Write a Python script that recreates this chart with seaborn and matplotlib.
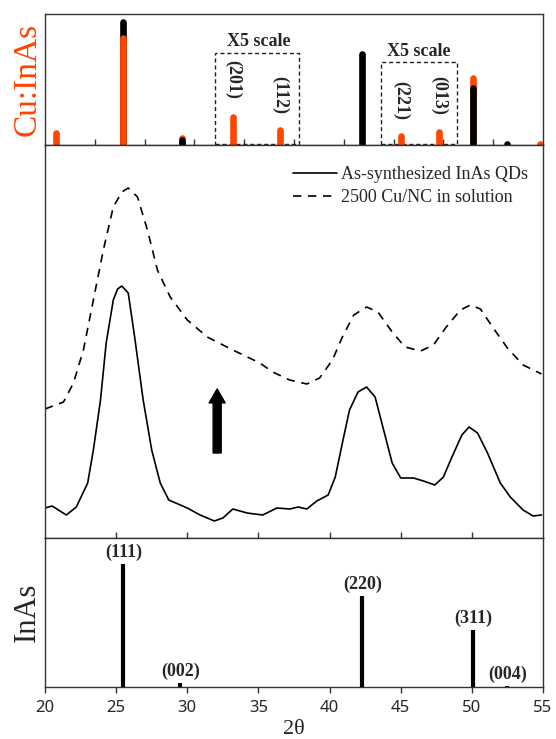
import numpy as np
import pandas as pd
import matplotlib.pyplot as plt
import seaborn as sns
from matplotlib.patches import Rectangle

# ---- top panel: Cu:InAs reference peaks (panel units 0-393) ----
cu_orange_pos = [20.8, 25.5, 29.6, 33.2, 36.5, 45.0, 47.7, 50.1, 54.8]
cu_orange_h = [35, 322, 22, 85, 44, 27, 39, 201, 4]
cu_black_pos = [25.5, 29.6, 42.3, 50.1, 52.5]
cu_black_h = [369, 15, 274, 172, 3]
cu_hkl_labels = ["(201)", "(112)", "(221)", "(013)"]
cu_hkl_pos = [33.2, 36.5, 45.0, 47.7]
cu_hkl_y = [196, 150, 133, 148]

# ---- middle panel: measured XRD patterns (arb. units) ----
qd_x = [20.0, 20.5, 21.5, 22.2, 23.0, 23.4, 23.9, 24.3, 24.8, 25.1, 25.4, 25.85, 26.3,
        26.9, 27.5, 28.1, 28.7, 30.0, 30.9, 31.9, 32.5, 33.2, 34.2, 35.3, 36.3,
        37.2, 37.8, 38.4, 39.1, 39.9, 40.4, 40.9, 41.4, 42.0, 42.6, 43.2, 43.8,
        44.4, 45.0, 45.9, 46.6, 47.4, 48.0, 48.6, 49.3, 49.8, 50.4, 51.1, 52.0,
        52.7, 53.6, 54.3, 54.9]
qd_y = [30, 32, 23, 31, 55, 88, 138, 195, 238, 249, 252, 245, 201,
        138, 88, 55, 38, 30, 23, 17, 20, 29, 25, 23, 30,
        29, 31, 29, 37, 43, 61, 95, 128, 146, 151, 141, 108,
        75, 60, 60, 57, 53, 61, 81, 103, 111, 105, 85, 55,
        41, 28, 22, 23]
cu_x = [20.0, 21.3, 22.0, 22.7, 23.4, 24.1, 24.8, 25.4, 25.85, 26.5, 27.2, 27.9,
        28.8, 30.0, 31.4, 33.2, 35.1, 36.0, 37.2, 38.4, 39.3, 40.2, 40.9, 41.7,
        42.6, 43.4, 44.4, 45.3, 46.4, 47.3, 48.2, 49.2, 49.9, 50.6, 51.5, 52.5,
        53.6, 54.9]
cu_y = [129, 136, 155, 188, 238, 288, 331, 346, 350, 341, 308, 268,
        241, 218, 201, 188, 175, 166, 158, 154, 160, 178, 201, 223,
        231, 226, 206, 191, 187, 193, 211, 228, 233, 229, 210, 190,
        173, 164]
legend_labels = ["As-synthesized InAs QDs", "2500 Cu/NC in solution"]

# ---- bottom panel: InAs reference peaks ----
inas_pos = [25.5, 29.5, 42.3, 50.1, 52.5]
inas_h = [123, 4, 91, 57, 1]
inas_labels = ["(111)", "(002)", "(220)", "(311)", "(004)"]

ORANGE = "#FF4500"
SPINE = "#333333"
SERIF = "Liberation Serif"


def main():
    sns.set_style("ticks")
    plt.rcParams["font.family"] = ["Noto Sans", "DejaVu Sans"]

    fig = plt.figure(figsize=(5.56, 7.39), dpi=100)
    left, width = 45 / 556, 498 / 556
    ax_top = fig.add_axes([left, 1 - 145 / 739, width, 131 / 739])
    ax_mid = fig.add_axes([left, 1 - 538 / 739, width, 393 / 739])
    ax_bot = fig.add_axes([left, 1 - 687 / 739, width, 149 / 739])

    for ax in (ax_top, ax_mid, ax_bot):
        ax.set_xlim(20, 55)
        for sp in ax.spines.values():
            sp.set_visible(True)
            sp.set_color(SPINE)
            sp.set_linewidth(1.0)
        ax.set_yticks([])

    # top panel, taller bar drawn first so both stay visible
    bars = [(p, h, ORANGE) for p, h in zip(cu_orange_pos, cu_orange_h)]
    bars += [(p, h, "black") for p, h in zip(cu_black_pos, cu_black_h)]
    bars.sort(key=lambda b: -b[1])
    for i, (p, h, c) in enumerate(bars):
        ax_top.vlines(p, 0, h, colors=c, linewidth=4.8, capstyle="round", zorder=2 + i * 0.01)
    ax_top.set_ylim(0, 393)
    ax_top.set_xticks(np.arange(23.5, 55, 3.5))
    ax_top.tick_params(axis="x", direction="in", length=4, width=1, color=SPINE, labelbottom=False)
    ax_top.add_patch(Rectangle((31.95, 3), 5.9, 274, fill=False, ls=(0, (3, 2)), lw=1.0, ec="#222222"))
    ax_top.add_patch(Rectangle((43.6, 3), 5.38, 245, fill=False, ls=(0, (3, 2)), lw=1.0, ec="#222222"))
    ax_top.text(35.0, 312, "X5 scale", ha="center", va="center", fontsize=13,
                fontweight="bold", family=SERIF)
    ax_top.text(46.3, 280, "X5 scale", ha="center", va="center", fontsize=13,
                fontweight="bold", family=SERIF)
    for lab, p, y in zip(cu_hkl_labels, cu_hkl_pos, cu_hkl_y):
        ax_top.text(p, y, lab, rotation=-90, ha="center", va="center", fontsize=13,
                    fontweight="bold", family=SERIF)
    ax_top.text(-0.036, 0.5, "Cu:InAs", transform=ax_top.transAxes, rotation=90,
                ha="center", va="center", color=ORANGE, fontsize=24, family=SERIF)

    # middle panel
    qd = pd.DataFrame({"x": qd_x, "y": qd_y})
    cu = pd.DataFrame({"x": cu_x, "y": cu_y})
    sns.lineplot(data=qd, x="x", y="y", ax=ax_mid, color="black", linewidth=1.2,
                 label=legend_labels[0])
    sns.lineplot(data=cu, x="x", y="y", ax=ax_mid, color="black", linewidth=1.2,
                 linestyle=(0, (5, 4)), label=legend_labels[1])
    ax_mid.set_ylim(0, 393)
    ax_mid.set_yticks([])
    ax_mid.set_xlabel("")
    ax_mid.set_ylabel("")
    ax_mid.set_xticks(np.arange(25, 55, 5))
    ax_mid.tick_params(axis="x", direction="in", length=4, width=1, color=SPINE, labelbottom=False)
    ax_mid.legend(loc="upper right", bbox_to_anchor=(0.970, 0.947), frameon=False,
                  prop={"family": SERIF, "size": 13}, handlelength=2.4, handletextpad=0.25,
                  borderpad=0, borderaxespad=0, labelspacing=0.35)
    ax_mid.annotate("", xy=(32.1, 149), xytext=(32.1, 85),
                    arrowprops=dict(arrowstyle="simple,head_length=1.0,head_width=1.15,tail_width=0.58",
                                    fc="black", ec="black", mutation_scale=10,
                                    shrinkA=0, shrinkB=0))

    # bottom panel
    ax_bot.vlines(inas_pos, 0, inas_h, colors="black", linewidth=3.0)
    for lab, p, h in zip(inas_labels, inas_pos, inas_h):
        ax_bot.text(p, h + 3, lab, ha="center", va="bottom", fontsize=13,
                    fontweight="bold", family=SERIF)
    ax_bot.set_ylim(0, 149)
    ax_bot.set_xticks(np.arange(20, 56, 5))
    ax_bot.tick_params(axis="x", direction="out", length=4, width=1, color=SPINE,
                       labelsize=12, pad=5)
    ax_bot.set_xlabel("2θ", fontsize=16, family=SERIF, labelpad=3)
    ax_bot.set_ylabel("")
    ax_bot.text(-0.036, 0.5, "InAs", transform=ax_bot.transAxes, rotation=90,
                ha="center", va="center", fontsize=22, family=SERIF)

    fig.savefig("out.png", dpi=100)


if __name__ == "__main__":
    main()
